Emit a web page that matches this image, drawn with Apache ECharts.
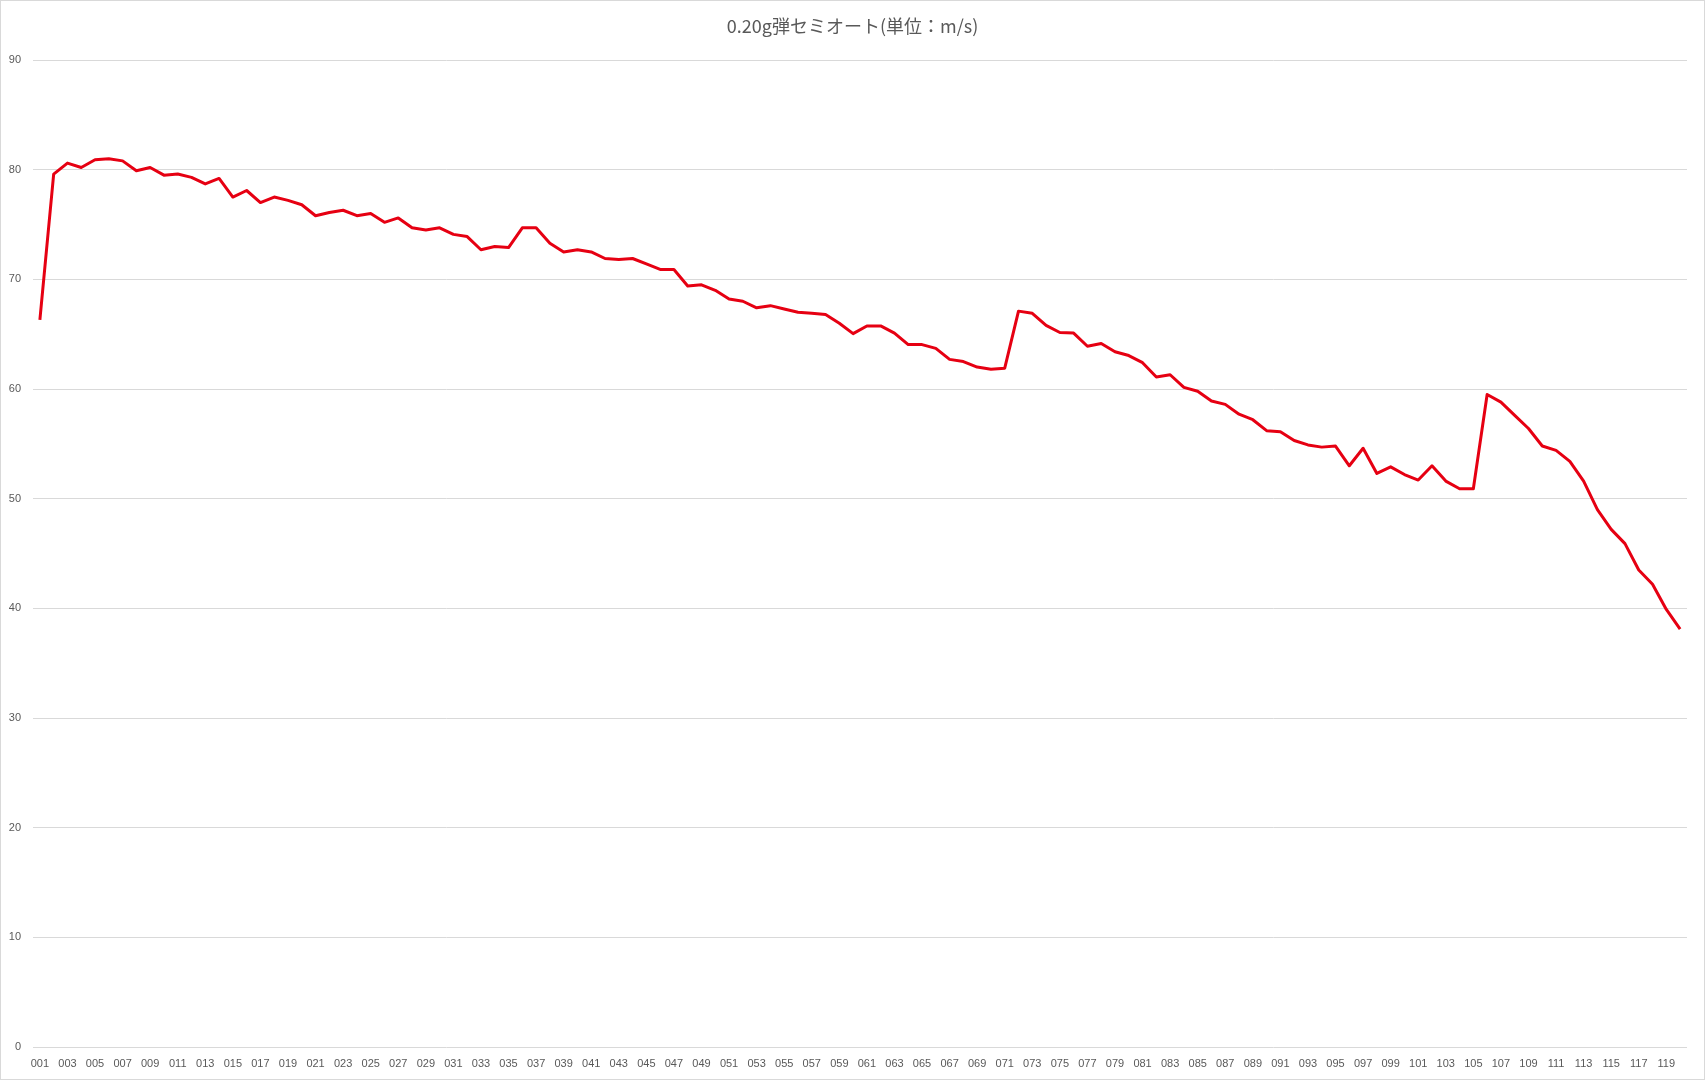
<!DOCTYPE html>
<html>
<head>
<meta charset="utf-8">
<script src="https://cdn.jsdelivr.net/npm/echarts@6/dist/echarts.min.js"></script>
<style>
html,body{margin:0;padding:0;background:#fff;}
#chart{width:1705px;height:1080px;box-sizing:border-box;border:1px solid #d9d9d9;}
</style>
</head>
<body>
<div id="chart"></div>
<script>
const titleText = "0.20g弾セミオート(単位：m/s)";
const categories = [];
for (let i = 1; i <= 120; i++) categories.push(String(i).padStart(3, "0"));
const speeds = [
  66.3, 79.6, 80.6, 80.2, 80.9, 81.0, 80.8, 79.9, 80.2, 79.5,
  79.6, 79.3, 78.7, 79.2, 77.5, 78.1, 77.0, 77.5, 77.2, 76.8,
  75.8, 76.1, 76.3, 75.8, 76.0, 75.2, 75.6, 74.7, 74.5, 74.7,
  74.1, 73.9, 72.7, 73.0, 72.9, 74.7, 74.7, 73.3, 72.5, 72.7,
  72.5, 71.9, 71.8, 71.9, 71.4, 70.9, 70.9, 69.4, 69.5, 69.0,
  68.2, 68.0, 67.4, 67.6, 67.3, 67.0, 66.9, 66.8, 66.0, 65.05,
  65.75, 65.75, 65.1, 64.05, 64.05, 63.7, 62.7, 62.5, 62.0, 61.8,
  61.9, 67.1, 66.9, 65.8, 65.15, 65.1, 63.9, 64.15, 63.4, 63.05,
  62.4, 61.1, 61.3, 60.15, 59.8, 58.9, 58.6, 57.7, 57.2, 56.2,
  56.1, 55.3, 54.9, 54.7, 54.8, 53.0, 54.6, 52.3, 52.9, 52.2,
  51.7, 53.0, 51.6, 50.9, 50.9, 59.5, 58.8, 57.6, 56.4, 54.8,
  54.4, 53.4, 51.6, 49.0, 47.2, 45.9, 43.5, 42.2, 39.9, 38.1
];
const yMin = 0, yMax = 90, yStep = 10;

const chart = echarts.init(document.getElementById('chart'), null, {renderer: 'canvas'});
chart.setOption({
  animation: false,
  backgroundColor: '#ffffff',
  title: {
    text: titleText,
    left: 'center',
    top: 11,
    textStyle: {
      fontFamily: '"Noto Sans CJK JP", "Noto Sans", sans-serif',
      fontSize: 18,
      fontWeight: 'normal',
      color: '#595959'
    }
  },
  grid: {left: 32, right: 17, top: 59, bottom: 32, containLabel: false},
  xAxis: {
    type: 'category',
    data: categories,
    boundaryGap: true,
    axisLine: {show: false},
    axisTick: {show: false},
    axisLabel: {
      interval: 1,
      margin: 11,
      fontFamily: '"Liberation Sans", Arial, sans-serif',
      fontSize: 11,
      color: '#595959'
    }
  },
  yAxis: {
    type: 'value',
    min: yMin, max: yMax, interval: yStep,
    axisLine: {show: false},
    axisTick: {show: false},
    splitLine: {lineStyle: {color: '#d9d9d9', width: 1}},
    axisLabel: {
      margin: 12,
      fontFamily: '"Liberation Sans", Arial, sans-serif',
      fontSize: 11,
      color: '#595959'
    }
  },
  series: [{
    type: 'line',
    data: speeds,
    symbol: 'none',
    smooth: false,
    lineStyle: {color: '#e60012', width: 3, join: 'round'},
    itemStyle: {color: '#e60012'}
  }]
});
</script>
</body>
</html>
